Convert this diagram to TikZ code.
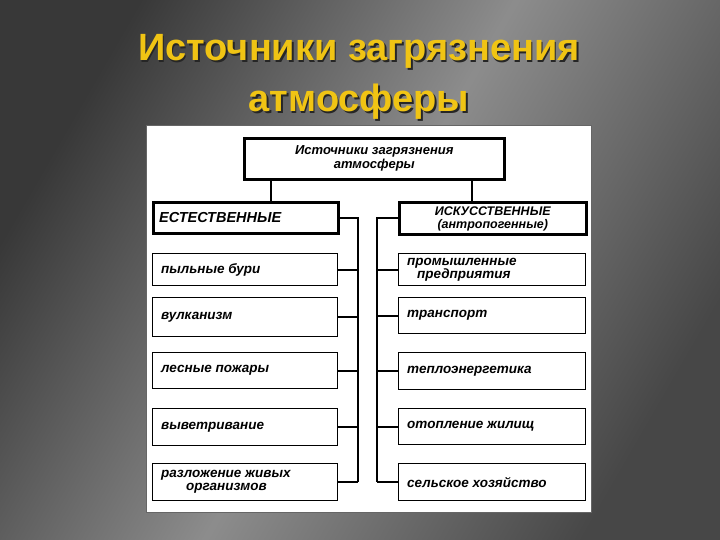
\documentclass[tikz,border=0pt]{standalone}
\usepackage{fontspec}
\setmainfont{Liberation Sans}
\begin{document}
\begin{tikzpicture}[x=1pt,y=-1pt,
  box/.style={draw,line width=1.3pt,anchor=north west,inner sep=0pt},
  bbox/.style={box,line width=2.6pt},
  lbl/.style={font=\bfseries\itshape\fontsize{13.5}{13}\selectfont,align=left,anchor=west,inner sep=0pt},
  ln/.style={line width=1.8pt}]
\useasboundingbox (0,0) rectangle (720,540);
\shade[left color=black!78,right color=black!72,middle color=black!45,shading angle=60] (0,0) rectangle (720,540);
\node[text=black!85,font=\bfseries\fontsize{38}{51}\selectfont,align=center] (tsh) at (360.5,78.5) {Источники загрязнения\\атмосферы};
\node[text={rgb,255:red,240;green,196;blue,20},font=\bfseries\fontsize{38}{51}\selectfont,align=center] (title) at (359,77) {Источники загрязнения\\атмосферы};
\node[fill=white,draw=black!60,minimum width=445,minimum height=387,anchor=north west,inner sep=0] (panel) at (146,125) {};
\node[bbox,minimum width=260,minimum height=41] (top) at (243,137) {};
\node[lbl,align=center,anchor=center,font=\bfseries\itshape\fontsize{13}{14}\selectfont] (toplbl) at (top.center) {Источники загрязнения\\атмосферы};
\node[bbox,minimum width=185,minimum height=31] (L0) at (152,201) {};
\node[lbl,font=\bfseries\itshape\fontsize{14.5}{14}\selectfont] (L0l) at ([xshift=7pt]L0.west) {ЕСТЕСТВЕННЫЕ};
\node[bbox,minimum width=187,minimum height=32] (R0) at (398,201) {};
\node[lbl,align=center,anchor=center,font=\bfseries\itshape\fontsize{12.5}{13}\selectfont] (R0l) at ([yshift=-0.5pt]R0.center) {ИСКУССТВЕННЫЕ\\(антропогенные)};
\foreach \n/\y/\h/\t in {1/253/32/{пыльные бури},2/297/39/{вулканизм},3/352/36/{лесные пожары},4/408/37/{выветривание},5/463/37/{разложение живых\\\hspace*{25pt}организмов}}{
 \node[box,minimum width=185,minimum height=\h] (L\n) at (152,\y) {};
 \node[lbl] (L\n l) at ([xshift=9pt]L\n.west) {\t};}
\foreach \n/\y/\h/\t in {1/253/32/{промышленные\\\hspace*{10pt}предприятия},2/297/36/{транспорт},3/352/37/{теплоэнергетика},4/408/36/{отопление жилищ},5/463/37/{сельское хозяйство}}{
 \node[box,minimum width=187,minimum height=\h] (R\n) at (398,\y) {};
 \node[lbl] (R\n l) at ([xshift=9pt]R\n.west) {\t};}
\draw[ln] (top.south -| 271,0) -- (L0.north -| 271,0);
\draw[ln] (top.south -| 472,0) -- (R0.north -| 472,0);
\coordinate (lb) at (358,0); \coordinate (rb) at (377,0);
\draw[ln] (L0.east) -- (L0.east -| lb) -- (L5.east -| lb);
\draw[ln] (R0.west) -- (R0.west -| rb) -- (R5.west -| rb);
\foreach \n in {1,...,5}{
 \draw[ln] (L\n.east) -- (L\n.east -| lb);
 \draw[ln] (R\n.west) -- (R\n.west -| rb);}
\end{tikzpicture}
\end{document}
